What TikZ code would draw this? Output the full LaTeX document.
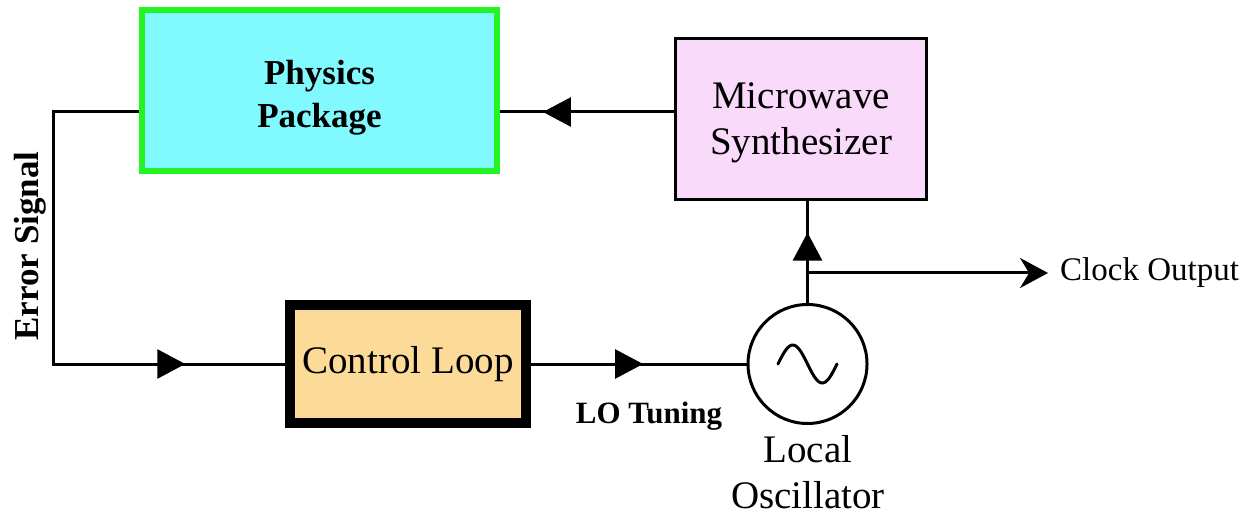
\documentclass[tikz,border=0pt]{standalone}
\usepackage{fontspec}
\setmainfont{Liberation Serif}
\usetikzlibrary{arrows.meta,decorations.markings}

\definecolor{physfill}{RGB}{128,249,255}
\definecolor{physedge}{RGB}{34,245,34}
\definecolor{synthfill}{RGB}{250,218,250}
\definecolor{loopfill}{RGB}{252,218,152}

\tikzset{
  blocktext/.style={font=\fontsize{39}{46}\selectfont, align=center},
  boldtext/.style={font=\fontsize{35}{43}\selectfont\bfseries, align=center},
  wire/.style={line width=3pt},
  midarrow/.style={postaction={decorate},
    decoration={markings, mark=at position #1 with {\arrow{Triangle[length=28pt,width=29pt]}}}}
}

\begin{document}
\begin{tikzpicture}[x=1pt, y=-1pt]
    \useasboundingbox (0,0) rectangle (1241,518);

    % blocks
    \node[draw=physedge, line width=6pt, fill=physfill, minimum width=355pt, minimum height=161pt, boldtext, text depth=0pt, text height=74pt] (phys) at (319.5,90.5) {Physics\\Package};
    \node[draw, line width=3pt, fill=synthfill, minimum width=251pt, minimum height=161pt, blocktext, text depth=0pt] (synth) at (801,119) {Microwave\\Synthesizer};
    \node[draw, line width=10pt, fill=loopfill, minimum width=236pt, minimum height=117pt, blocktext] (loop) at (408,364) {Control Loop};
    \node[draw, circle, line width=3pt, minimum size=119pt, inner sep=0pt] (osc) at (807.5,364) {};
    \draw[wire, line cap=round, shift={(osc.center)}] plot[domain=0:360, samples=50, smooth] ({-29.5+\x/360*59},{-19*sin(\x)});

    % labels
    \node[boldtext, rotate=90] (errlabel) at (30,246) {Error Signal};
    \node[font=\fontsize{31}{37}\selectfont\bfseries, anchor=base] (tune) at (649,423) {LO Tuning};
    \node[blocktext, anchor=north, inner sep=0pt] (oscname) at (808,435) {Local\\Oscillator};
    \node[font=\fontsize{33}{40}\selectfont, anchor=west, inner xsep=12pt, inner ysep=0pt] (clk) at (1048,273) {Clock Output};

    % connectors
    \coordinate (upper) at (0,112);
    \coordinate (clkrow) at (0,273);
    \coordinate (esbend1) at (53,112);
    \coordinate (esbend2) at (53,364);
    \draw[wire, midarrow=0.753] (synth.west |- upper) -- (phys.east |- upper);
    \draw[wire, midarrow=0.825] (phys.west |- upper) -- (esbend1) -- (esbend2) -- (loop.west);
    \draw[wire, midarrow=0.52] (loop.east) -- (osc.west);
    \draw[wire, midarrow=0.69] (osc.north) -- (osc.north |- synth.south);
    \draw[wire, -{Stealth[length=28pt,width=30pt]}] (osc.north |- clkrow) -- (clk.west);
\end{tikzpicture}
\end{document}
